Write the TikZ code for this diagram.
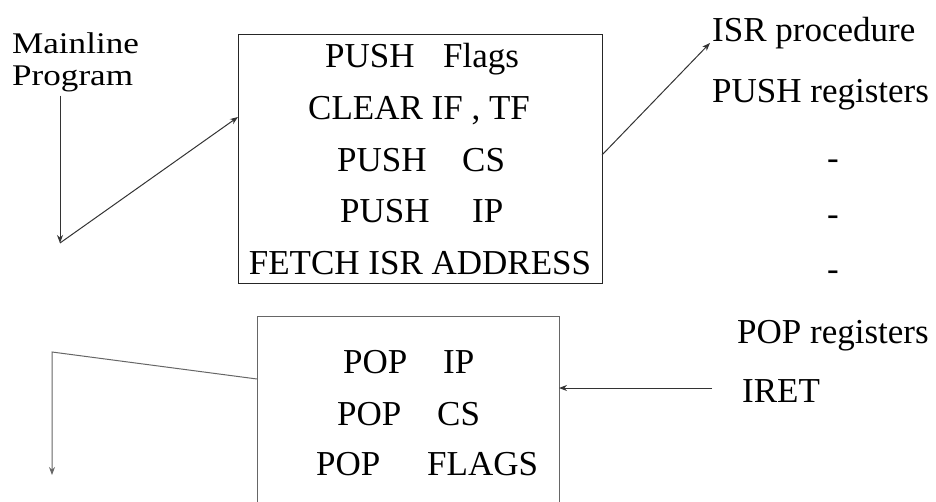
\documentclass[tikz,border=0pt]{standalone}
\usepackage{fontspec}
\setmainfont{Liberation Serif}
\newfontfamily\widefont[FakeStretch=1.17]{Liberation Serif}
\usetikzlibrary{arrows.meta}
\begin{document}
\begin{tikzpicture}[x=1pt,y=-1pt,
  txt/.style={inner sep=0pt,anchor=base west,font=\fontsize{35}{40}\selectfont},
  txts/.style={inner sep=0pt,anchor=base west,font=\fontsize{35}{40}\selectfont},
  txtw/.style={inner sep=0pt,anchor=base west,font=\widefont\fontsize{30}{30}\selectfont},
  boxa/.style={draw=black!85,line width=1.3pt,inner sep=0pt,anchor=north west},
  boxb/.style={draw=black!60,line width=0.9pt,inner sep=0pt,anchor=north west},
  conn/.style={draw=black!80,line width=1pt},
  arr/.style={conn,-{Stealth[length=8pt,width=6pt]}}]
\useasboundingbox (0,0) rectangle (936,502);
\clip (0,0) rectangle (936,502);
% boxes
\node[boxa,minimum width=364pt,minimum height=249pt] (tbox) at (238,34) {};
\node[boxb,minimum width=302pt,minimum height=240pt] (bbox) at (257,316) {};
% top box text
\node[txt] (t1a) at (325,68) {PUSH};
\node[txt] (t1b) at (443,68) {Flags};
\node[txt] (t2) at (308,120) {CLEAR IF , TF};
\node[txt] (t3a) at (337,172) {PUSH};
\node[txt] (t3b) at (462,172) {CS};
\node[txt] (t4a) at (340,223) {PUSH};
\node[txt] (t4b) at (472,223) {IP};
\node[txt,anchor=base] (t5) at (420,275) {FETCH ISR ADDRESS};
% bottom box text
\node[txts] (b1a) at (343,373) {POP};
\node[txts] (b1b) at (443,373) {IP};
\node[txts] (b2a) at (337,425) {POP};
\node[txts] (b2b) at (437,425) {CS};
\node[txts] (b3a) at (316,475) {POP};
\node[txts] (b3b) at (427,475) {FLAGS};
% left labels
\node[txtw] (main) at (12,54) {Mainline};
\node[txtw] (prog) at (12,86) {Program};
% right labels
\node[txts] (isr) at (712,42) {ISR procedure};
\node[txts] (pushr) at (712,103) {PUSH registers};
\node[txts,anchor=base] (d1) at (833,170) {-};
\node[txts,anchor=base] (d2) at (833,226) {-};
\node[txts,anchor=base] (d3) at (833,280) {-};
\node[txts] (popr) at (737,343) {POP registers};
\node[txts] (iret) at (742,402) {IRET};
% coordinates
\coordinate (c1) at (60,243);
\coordinate (tin) at (238,117);
\coordinate (tout) at (602,155);
\coordinate (isrin) at (710,43);
\coordinate (iretout) at (712,388);
\coordinate (bin) at (559,388);
\coordinate (bout) at (257,379);
\coordinate (c2) at (52,352);
\coordinate (c3) at (52,475);
% connectors
\draw[arr] (prog.south -| c1) ++(0,3) -- (c1);
\draw[arr] (c1) -- (tin);
\draw[arr] (tout) -- (isrin);
\draw[arr] (iretout) -- (bin);
\draw[arr,draw=black!60] (bout) -- (c2) -- (c3);
\end{tikzpicture}
\end{document}
